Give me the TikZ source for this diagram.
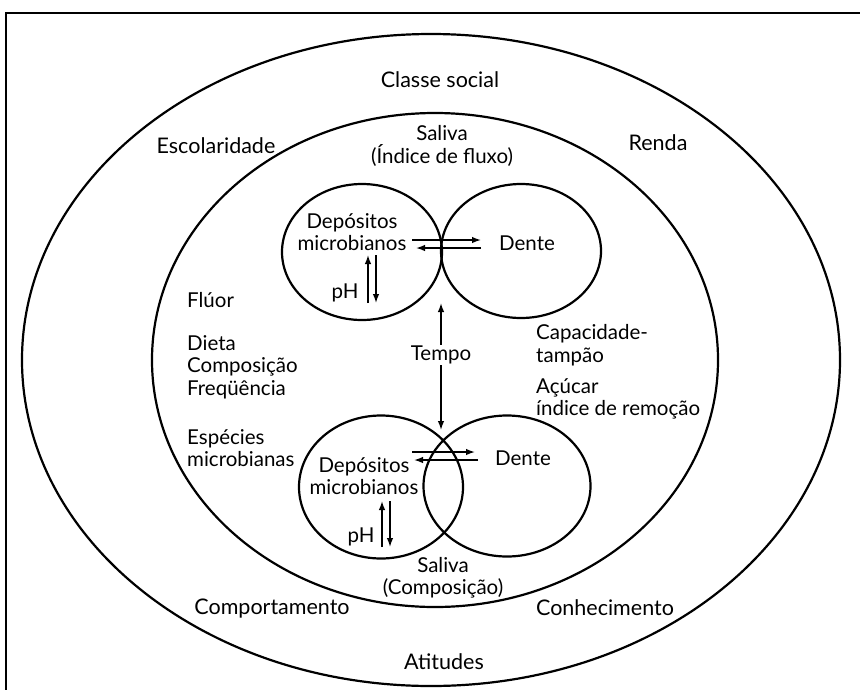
\documentclass[tikz,border=0pt]{standalone}
\usepackage{fontspec}
\setmainfont{Lato}
\usetikzlibrary{arrows.meta,shapes.geometric}

\begin{document}
\begin{tikzpicture}[x=1pt,y=-1pt,
  >={Latex[length=9pt,width=6.5pt]},
  ring/.style={draw,ellipse,line width=2.2pt,inner sep=0pt},
  lbl/.style={font=\fontsize{20.5}{22.5}\selectfont,align=center,inner sep=1pt},
  big/.style={lbl,font=\fontsize{21.5}{23}\selectfont},
  lst/.style={lbl,align=left,anchor=west},
  flux/.style={->,line width=1.4pt}
]
\useasboundingbox (0,0) rectangle (860,689);
% frame
\draw[line width=1.5pt] (6,700) |- (870,13);

% rings
\node[ring,minimum width=818,minimum height=652] (outer) at (431,360) {};
\node[ring,minimum width=566,minimum height=494] (inner) at (435,360) {};
\node[ring,minimum width=160,minimum height=136] (depA) at (362,252) {};
\node[ring,minimum width=160,minimum height=134] (denA) at (521,251) {};
\node[ring,minimum width=164,minimum height=143] (depB) at (381,487) {};
\node[ring,minimum width=167,minimum height=141] (denB) at (507,486) {};

% outer ring
\node[big] (classe) at (440,80) {Classe social};
\node[big] (escol) at (216,146) {Escolaridade};
\node[big] (renda) at (658,143) {Renda};
\node[big] (comport) at (272,609) {Comportamento};
\node[big] (conhec) at (605,608) {Conhecimento};
\node[big] (atit) at (444,662) {Atitudes};

% inner ring
\node[lbl] (salfl) at (442,146) {Saliva\\(Índice de fluxo)};
\node[lst] (fluor) at (186,300) {Flúor};
\node[lst] (dieta) at (186,367) {Dieta\\Composição\\Freqüência};
\node[lst] (espec) at (186,448) {Espécies\\microbianas};
\node[lst] (tampao) at (535,345) {Capacidade-\\tampão};
\node[lst] (acucar) at (535,399) {Açúcar\\índice de remoção};
\node[lbl] (salcomp) at (443,578) {Saliva\\(Composição)};
\node[lbl] (tempo) at (441,355) {Tempo};

% upper pair
\node[lbl] (depAt) at (352,232) {Depósitos\\microbianos};
\node[lbl] (denAt) at (527,243) {Dente};
\node[lbl] (phA) at (345,293) {pH};
\coordinate (a1) at (412,240);
\coordinate (a2) at (481,240);
\coordinate (a3) at (416,248);
\coordinate (a4) at (481,248);
\draw[flux] (a1) -- (a2);
\draw[flux] (a4) -- (a3);
\draw[flux] (368,303) -- (368,255);
\draw[flux] (376,255) -- (376,303);

% lower pair
\node[lbl] (depBt) at (364,476) {Depósitos\\microbianos};
\node[lbl] (denBt) at (523,458) {Dente};
\node[lbl] (phB) at (361,537) {pH};
\coordinate (b1) at (412,452);
\coordinate (b2) at (475,452);
\coordinate (b3) at (414,460);
\coordinate (b4) at (478,460);
\draw[flux] (b1) -- (b2);
\draw[flux] (b4) -- (b3);
\draw[flux] (382,547) -- (382,501);
\draw[flux] (390,501) -- (390,547);

% time
\coordinate (tUp) at (441,303);
\coordinate (tDn) at (441,430);
\draw[flux] (tempo) -- (tUp);
\draw[flux] (tempo) -- (tDn);
\end{tikzpicture}
\end{document}
